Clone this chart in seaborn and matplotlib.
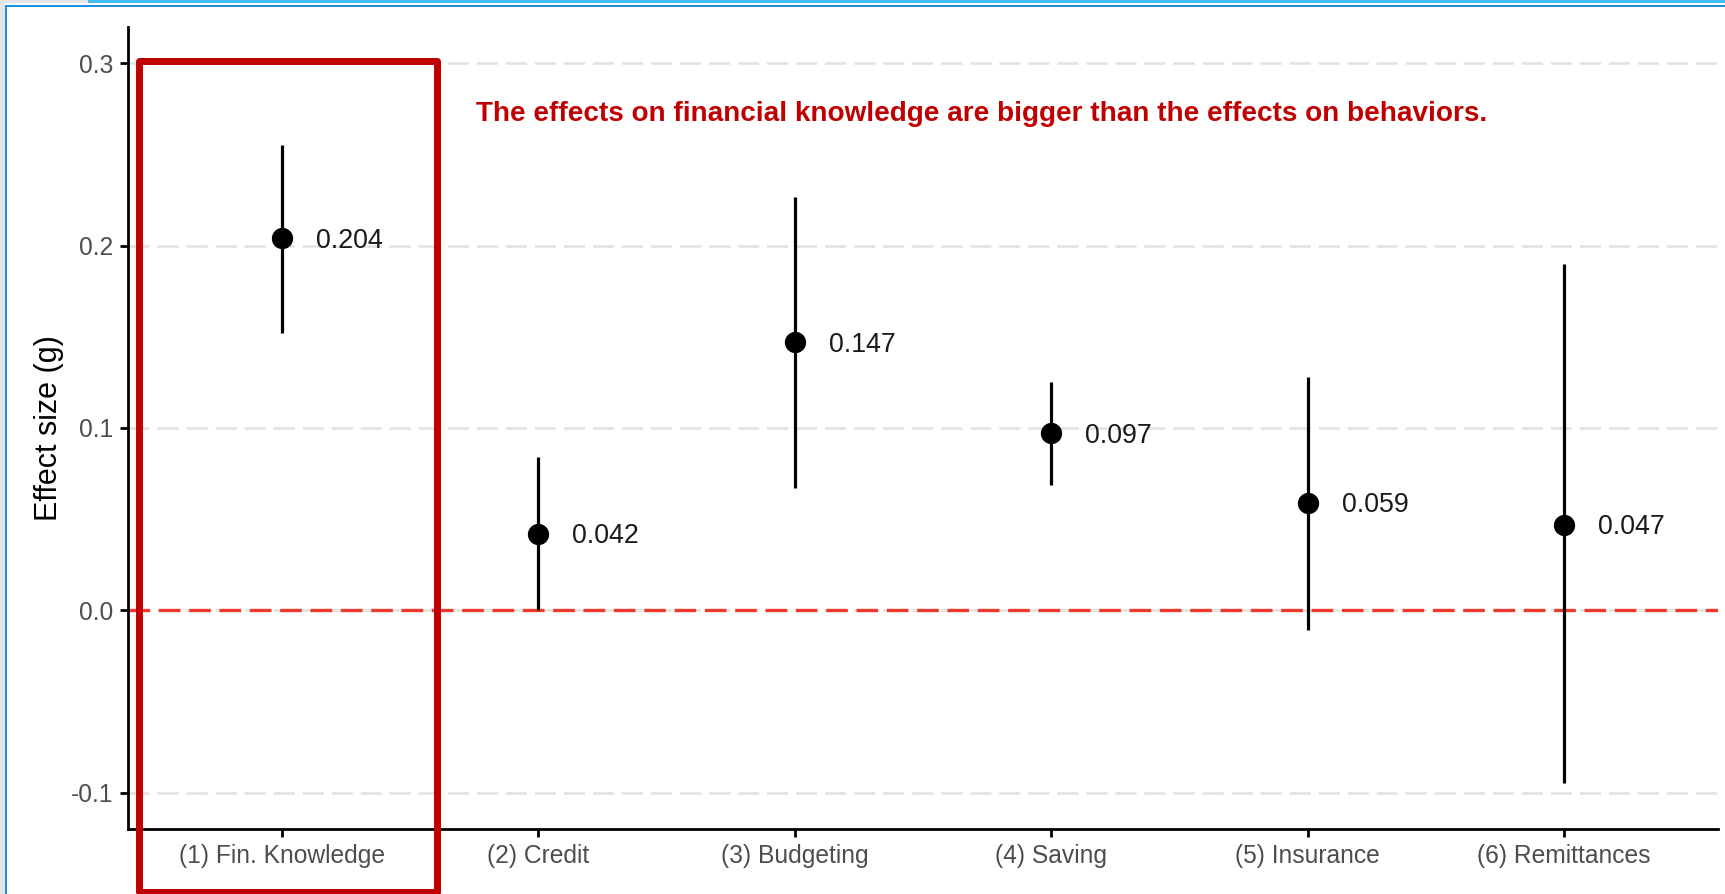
import matplotlib
matplotlib.use("Agg")
import matplotlib.pyplot as plt
import matplotlib.patches as mpatches
import pandas as pd
import seaborn as sns

# Effect sizes (Hedges' g) with confidence intervals
categories = ["(1) Fin. Knowledge", "(2) Credit", "(3) Budgeting",
              "(4) Saving", "(5) Insurance", "(6) Remittances"]
effect = [0.204, 0.042, 0.147, 0.097, 0.059, 0.047]
ci_low = [0.152, 0.000, 0.067, 0.069, -0.011, -0.095]
ci_high = [0.255, 0.084, 0.227, 0.125, 0.128, 0.190]
y_ticks = [-0.1, 0.0, 0.1, 0.2, 0.3]
note = "The effects on financial knowledge are bigger than the effects on behaviors."

df = pd.DataFrame({"outcome": categories, "g": effect, "low": ci_low, "high": ci_high})

sns.set_theme(style="white")
plt.rcParams["font.family"] = ["Liberation Sans", "DejaVu Sans"]

W, H = 1725, 894
fig = plt.figure(figsize=(W / 100, H / 100), dpi=100)
fig.patch.set_facecolor("white")
ax = fig.add_axes([128 / W, 1 - 829 / H, (1718 - 128) / W, (829 - 27) / H])

# grid and reference line
ax.set_yticks(y_ticks)
ax.set_yticklabels([f"{t:.1f}" for t in y_ticks])
ax.yaxis.grid(True, color="#e2e2e2", linestyle=(0, (8, 3)), linewidth=1.9)
ax.set_axisbelow(True)
ax.axhline(0, color="#ee3a2c", linewidth=2.4, linestyle=(0, (6.5, 2.6)), zorder=1.5)

# confidence intervals and points
ax.vlines(df["outcome"], df["low"], df["high"], color="black", linewidth=2.3, zorder=2)
sns.scatterplot(data=df, x="outcome", y="g", color="black", s=235,
                edgecolor="black", linewidth=0, zorder=3, ax=ax)

for i, row in df.iterrows():
    ax.annotate(f"{row['g']:.3f}", (i, row["g"]), xytext=(24.5, -6.9),
                textcoords="offset points", ha="left", va="baseline",
                fontsize=19.3, color="#1a1a1a")

ax.text(0.757, 0.2683, note, color="#c00000", fontsize=20.1,
        fontweight="bold", ha="left", va="baseline")

ax.set_xlim(-0.6, 5.6)
ax.set_ylim(-0.12, 0.32)
ax.set_xlabel("")
ax.set_ylabel("Effect size (g)", fontsize=22, color="black")
ax.yaxis.set_label_coords(-0.0403, 0.5)

sns.despine(ax=ax)
for side in ["left", "bottom"]:
    ax.spines[side].set_color("black")
    ax.spines[side].set_linewidth(2)
ax.tick_params(bottom=True, left=True, length=6, width=2, color="black",
               labelsize=17.7, labelcolor="#4d4d4d", pad=4.5)

# screenshot frame around the chart
def px_rect(x0, y0, x1, y1, color):
    fig.add_artist(mpatches.Rectangle((x0 / W, 1 - y1 / H), (x1 - x0) / W, (y1 - y0) / H,
                                      transform=fig.transFigure, facecolor=color,
                                      edgecolor="none", zorder=5))

px_rect(0, 0, 5, H, "#e4e5e7")
px_rect(0, 0, 88, 3, "#e4e5e7")
px_rect(88, 0, W, 3.3, "#41bdf0")
px_rect(5, 5, W, 7.3, "#1b8ee0")
px_rect(5, 5, 7, H, "#1b8ee0")

# highlight box around the first outcome
fig.add_artist(mpatches.Rectangle((138.5 / W, 1 - 892 / H), (437 - 138.5) / W, (892 - 60.5) / H,
                                  transform=fig.transFigure, fill=False,
                                  edgecolor="#c00000", linewidth=5, joinstyle="round",
                                  zorder=4))

fig.savefig("out.png", dpi=100)
